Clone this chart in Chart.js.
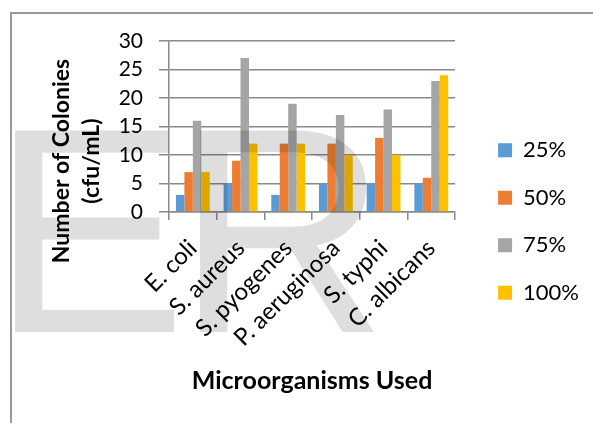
<!DOCTYPE html>
<html lang="en">
<head>
    <meta charset="UTF-8">
    <title>Microorganisms Used</title>
    <script src="https://cdn.jsdelivr.net/npm/chart.js"></script>
    <style>
        html, body { margin: 0; padding: 0; background: #fff; overflow: hidden; }
        #moldura {
            position: absolute; left: 10px; top: 12px;
            width: 620px; height: 440px;
            border-left: 2px solid #999; border-top: 2px solid #999;
        }
        #caixa { position: absolute; left: 0; top: 0; width: 593px; height: 423px; }
    </style>
</head>
<body>
    <div id="moldura"></div>
    <div id="caixa"><canvas id="grafico"></canvas></div>

<script>
    // dados
    const categorias = ['E. coli', 'S. aureus', 'S. pyogenes', 'P. aeruginosa', 'S. typhi', 'C. albicans'];
    const series = ['25%', '50%', '75%', '100%'];
    const valores25 = [3, 5, 3, 5, 5, 5];
    const valores50 = [7, 9, 12, 12, 13, 6];
    const valores75 = [16, 27, 19, 17, 18, 23];
    const valores100 = [7, 12, 12, 10, 10, 24];
    const yMin = 0, yMax = 30, yPasso = 5;

    const cores = ['#5B9BD5', '#ED7D31', '#A5A5A5', '#FFC000'];
    const todos = [valores25, valores50, valores75, valores100];

    // titulo do eixo y e marca d'agua
    const extras = {
        id: 'extras',
        afterDraw(chart) {
            const ctx = chart.ctx;
            ctx.save();
            ctx.fillStyle = '#000';
            ctx.font = 'bold 23px Lato';
            ctx.textAlign = 'center';
            ctx.textBaseline = 'middle';
            ctx.translate(0, 161);
            ctx.rotate(-Math.PI / 2);
            ctx.fillText('Number of Colonies', 0, 62);
            ctx.fillText('(cfu/mL)', 0, 92);
            ctx.restore();

            ctx.save();
            ctx.fillStyle = 'rgba(0,0,0,0.13)';
            ctx.font = '293px "Liberation Sans"';
            ctx.textBaseline = 'alphabetic';
            ctx.textAlign = 'left';
            ctx.fillText('E', -9, 332);
            ctx.fillText('R', 176, 332);
            ctx.restore();
        }
    };

    const dados = {
        labels: categorias,
        datasets: series.map(function (nome, i) {
            return {
                label: nome,
                data: todos[i],
                backgroundColor: cores[i],
                borderWidth: 0,
                categoryPercentage: 0.71,
                barPercentage: 1.0
            };
        })
    };

    const config = {
        type: 'bar',
        data: dados,
        options: {
            responsive: true,
            maintainAspectRatio: false,
            animation: false,
            layout: { padding: { left: 0, top: 41, right: 4, bottom: 21 } },
            plugins: {
                tooltip: { enabled: false },
                legend: {
                    position: 'right',
                    maxWidth: 130,
                    labels: {
                        boxWidth: 14,
                        boxHeight: 14,
                        padding: 25.5,
                        color: '#000',
                        font: { family: 'Lato', size: 22 }
                    }
                }
            },
            scales: {
                x: {
                    grid: { drawOnChartArea: false, drawTicks: true, tickLength: 8, color: '#8a8a8a', lineWidth: 1.5 },
                    border: { color: '#8a8a8a', width: 1.5 },
                    ticks: {
                        color: '#000',
                        font: { family: 'Lato', size: 24 },
                        minRotation: 45,
                        maxRotation: 45,
                        padding: 14
                    },
                    title: {
                        display: true,
                        text: 'Microorganisms Used',
                        color: '#000',
                        font: { family: 'Lato', size: 25, weight: 'bold' },
                        padding: { top: 0, bottom: 6 }
                    },
                    afterFit: function (scale) { scale.height = 190; }
                },
                y: {
                    min: yMin,
                    max: yMax,
                    grid: { color: '#8a8a8a', lineWidth: 1.5, tickLength: 10 },
                    border: { color: '#8a8a8a', width: 1.5 },
                    ticks: {
                        stepSize: yPasso,
                        color: '#000',
                        padding: 16,
                        font: { family: 'Lato', size: 21 }
                    },
                    afterFit: function (scale) { scale.width = 169; }
                },
                // espaco vazio entre a area do grafico e a legenda
                espaco: {
                    type: 'linear',
                    position: 'right',
                    display: true,
                    grid: { display: false },
                    border: { display: false },
                    ticks: { display: false },
                    afterFit: function (scale) { scale.width = 17.5; }
                }
            }
        },
        plugins: [extras]
    };

    const grafico = new Chart(document.getElementById('grafico'), config);
</script>
</body>
</html>
